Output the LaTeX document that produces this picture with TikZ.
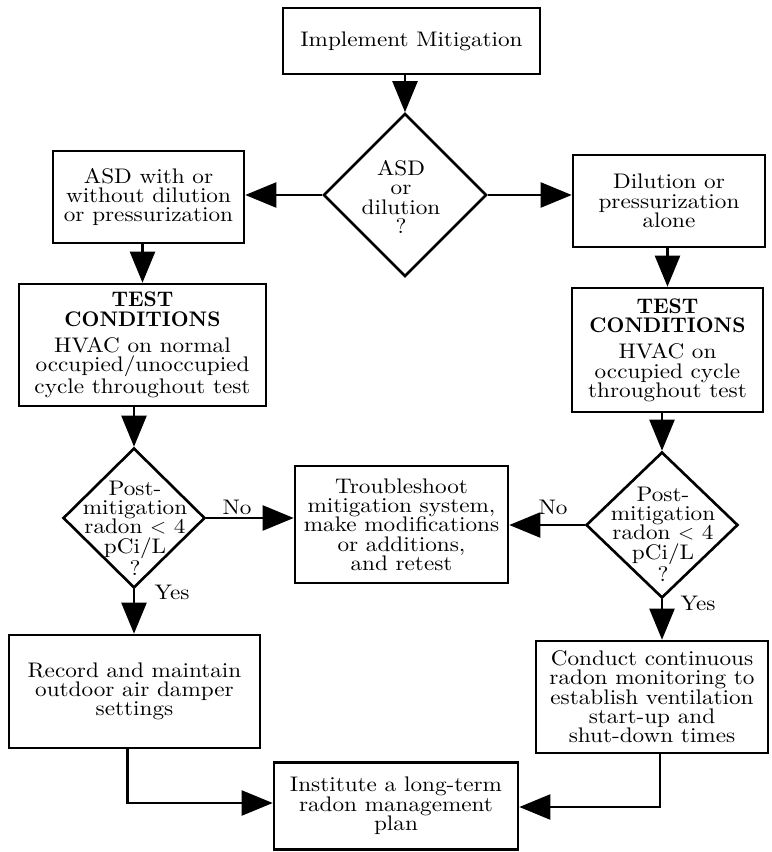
\documentclass[tikz,border=0pt]{standalone}
\usepackage{fontspec}
\setmainfont{lmroman10-regular}[Extension=.otf, BoldFont=lmroman10-bold, FakeStretch=1.1, BoldFeatures={FakeStretch=0.98}]
\usepackage{tikz}
\usetikzlibrary{positioning,arrows.meta,shapes.geometric}

\begin{document}
\begin{tikzpicture}[
    x=0.02cm, y=-0.02cm,
    box/.style={draw, line width=1.5pt, align=center, inner sep=2pt, font=\fontsize{12}{11}\selectfont},
    decision/.style={draw, diamond, line width=1.5pt, inner sep=0pt},
    dtext/.style={align=center, inner sep=0pt, font=\fontsize{12}{11}\selectfont},
    flow/.style={line width=1.3pt, -{Triangle[length=0.62cm, width=0.5cm]}},
    tag/.style={font=\fontsize{12}{12}\selectfont, inner sep=0pt}
]
    \useasboundingbox (0,0) rectangle (771,852);

    % Livello 0: avvio
    \node[box, minimum width=5.14cm, minimum height=1.32cm] (impl) at (411.5, 41) {Implement Mitigation};

    % Livello 1: scelta del sistema
    \node[decision, minimum width=3.26cm, minimum height=3.26cm] (d1) at (405, 195) {};
    \node[dtext] (d1t) at (401, 197) {ASD\\or\\dilution\\?};
    \node[box, minimum width=3.82cm, minimum height=1.84cm] (asd) at (148.5, 197) {ASD with or\\without dilution\\or pressurization};
    \node[box, minimum width=3.84cm, minimum height=1.84cm] (dil) at (669, 201) {Dilution or\\pressurization\\alone};

    \draw[flow] (d1 |- impl.south) -- (d1.north);
    \draw[flow] (d1.west) -- (d1.west -| asd.east);
    \draw[flow] (d1.east) -- (d1.east -| dil.west);

    % Livello 2: condizioni di prova
    \node[box, minimum width=4.94cm, minimum height=2.44cm] (testl) at (142.5, 345)
        {\textbf{TEST}\\\textbf{CONDITIONS}\\[4pt]HVAC on normal\\occupied/unoccupied\\cycle throughout test};
    \node[box, minimum width=3.82cm, minimum height=2.48cm] (testr) at (667.5, 350)
        {\textbf{TEST}\\\textbf{CONDITIONS}\\[4pt]HVAC on\\occupied cycle\\throughout test};

    \draw[flow] (testl |- asd.south) -- (testl.north);
    \draw[flow] (testr |- dil.south) -- (testr.north);

    % Livello 3: verifica del radon
    \node[decision, minimum width=2.84cm, minimum height=2.8cm] (d2) at (134, 518) {};
    \node[dtext] (d2t) at (135, 528) {Post-\\mitigation\\radon $<$ 4\\pCi/L\\?};
    \node[decision, minimum width=3.04cm, minimum height=2.92cm] (d3) at (662, 525) {};
    \node[dtext] (d3t) at (663, 534) {Post-\\mitigation\\radon $<$ 4\\pCi/L\\?};
    \node[box, minimum width=4.26cm, minimum height=2.34cm] (fix) at (401.5, 524.5)
        {Troubleshoot\\mitigation system,\\make modifications\\or additions,\\and retest};

    \draw[flow] (d2 |- testl.south) -- (d2.north);
    \draw[flow] (d3 |- testr.south) -- (d3.north);
    \draw[flow] (d2.east) -- (d2.east -| fix.west);
    \draw[flow] (d3.west) -- (d3.west -| fix.east);
    \node[tag] (no1) at (237, 507) {No};
    \node[tag] (no2) at (553, 507) {No};

    % Livello 4: esito positivo
    \node[box, minimum width=5.02cm, minimum height=2.26cm] (rec) at (134.5, 691.5)
        {Record and maintain\\outdoor air damper\\settings};
    \node[box, minimum width=4.64cm, minimum height=2.24cm] (mon) at (652, 697)
        {Conduct continuous\\radon monitoring to\\establish ventilation\\start-up and\\shut-down times};

    \draw[flow] (d2.south) -- (d2 |- rec.north);
    \draw[flow] (d3.south) -- (d3 |- mon.north);
    \node[tag] (yes1) at (172, 592) {Yes};
    \node[tag] (yes2) at (698, 603) {Yes};

    % Livello 5: piano a lungo termine
    \node[box, minimum width=4.88cm, minimum height=1.74cm] (plan) at (396, 806)
        {Institute a long-term\\radon management\\plan};

    \draw[flow] ([xshift=-0.14cm]rec.south) |- ([yshift=0.06cm]plan.west);
    \draw[flow] ([xshift=0.16cm]mon.south) |- ([yshift=-0.02cm]plan.east);
\end{tikzpicture}
\end{document}
